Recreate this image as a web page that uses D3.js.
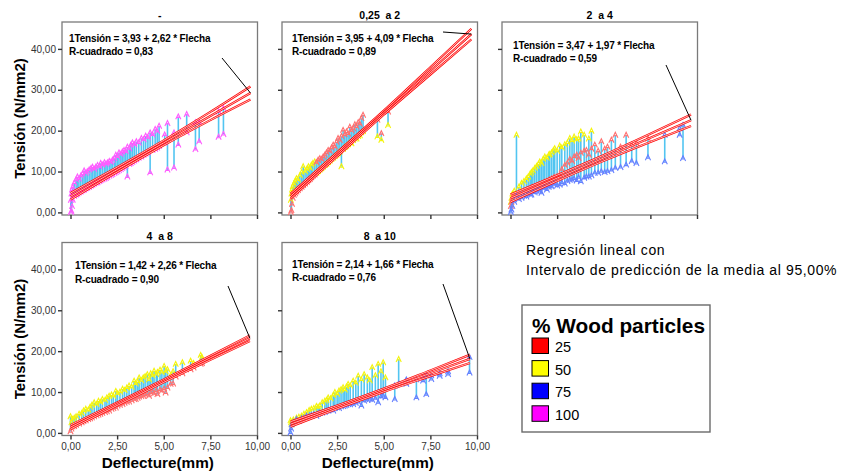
<!DOCTYPE html>
<html><head><meta charset="utf-8">
<script src="https://cdn.jsdelivr.net/npm/d3@7"></script>
<style>
body{margin:0;background:#fff}
svg{display:block;font-family:"Liberation Sans",Arial,sans-serif}
</style>
</head><body>
<svg id="c" width="850" height="473"></svg>
<script>
// ---------------- DATA ----------------
const categories = ["25", "50", "75", "100"];
const panelTitles = ["-", "0,25  a 2", "2  a 4", "4  a 8", "8  a 10"];
const xTicks = [0, 2.5, 5, 7.5, 10];
const yTicks = [0, 10, 20, 30, 40];
const intercepts = [3.93, 3.95, 3.47, 1.42, 2.14];
const slopes = [2.62, 4.09, 1.97, 2.26, 1.66];
const rSquared = [0.83, 0.89, 0.59, 0.90, 0.76];
const fitMaxX = [9.65, 9.7, 9.68, 9.62, 9.62];
const bandX = [0, 2.5, 5, 7.5, 10];
const bandHalf = [
  [0.8, 0.6, 0.6, 1.0, 1.6],
  [0.6, 0.5, 0.5, 0.9, 1.3],
  [0.9, 0.7, 0.7, 1.0, 1.4],
  [0.5, 0.35, 0.35, 0.5, 0.7],
  [0.6, 0.4, 0.4, 0.7, 1.0]
];

// panel 1 ("-") : 100 %
const p1X  = [0.02,0.05,0.08,0.12,0.2,0.3,0.37,0.45,0.55,0.65,0.73,0.82,0.9,1.0,1.1,1.18,1.27,1.36,1.45,1.55,1.62,1.72,1.82,1.9,1.98,2.08,2.17,2.25,2.35,2.43,2.52,2.6,2.7,2.78,2.87,2.96,3.05,3.15,3.23,3.32,3.42,3.53,3.66,3.8,3.92,4.03,4.15,4.27,4.4,4.54,4.65,4.75,5.05,5.2,5.55,5.78,6.23,6.7,6.9,7.94,8.2];
const p1Hi = [3.0,4.5,5.5,6.2,7.2,8.0,8.7,8.2,8.9,9.4,10.2,9.6,10.0,10.4,10.8,11.1,10.6,11.1,11.5,11.2,12.0,11.6,12.2,11.8,12.1,12.5,12.3,12.8,13.2,14.0,13.6,14.6,14.2,14.8,15.2,14.9,16.0,15.6,16.4,17.0,16.6,17.3,17.0,18.1,17.8,18.7,18.3,19.5,19.0,20.3,19.8,21.1,19.0,21.8,19.5,23.4,24.0,22.0,22.0,24.6,25.4];
const p1Lo = [0.0,0.3,1.5,3.0,4.0,4.3,4.5,4.8,5.0,5.3,5.5,5.8,6.0,6.2,6.5,6.7,7.0,7.2,7.3,7.6,7.8,8.0,8.2,8.4,8.6,8.9,9.1,9.3,9.6,9.8,10.0,10.3,10.5,10.8,11.0,11.3,8.7,11.8,12.0,12.3,12.6,12.9,13.3,13.6,14.0,14.3,14.6,9.7,15.2,15.5,15.8,16.2,17.0,10.4,10.9,16.5,19.5,15.4,17.3,18.4,19.1];

// panel 2 ("0,25 a 2") : 25 % and 50 %
const p2aX   = [0.02,0.05,0.08,0.12,0.18,0.25,0.32,0.4,0.5,0.6,0.68,0.78,0.88,0.96,1.04,1.12,1.2,1.3];
const p2aYel = [3.0,4.5,5.5,6.3,7.0,7.6,8.3,8.0,9.0,9.8,11.2,10.0,10.6,11.2,10.8,11.6,12.0,12.4];
const p2aRed = [0.0,0.5,2.0,3.5,4.2,4.6,5.0,5.4,5.8,6.2,6.6,7.0,7.4,7.8,8.1,8.5,8.9,9.2];
const p2bX   = [1.39,1.48,1.57,1.66,1.75,1.84,1.93,2.02,2.11,2.2,2.29,2.38,2.47,2.55,2.64,2.73,2.82,2.91,3.0,3.09,3.18,3.27,3.36,3.45,3.54,3.63,3.72,3.8,3.89,4.66,4.87,5.23];
const p2bRed = [12.2,12.8,13.2,13.0,13.6,14.0,14.6,15.2,15.0,15.8,16.5,16.0,17.2,18.1,17.6,18.6,20.1,19.0,19.7,19.2,20.9,20.0,20.5,21.5,20.9,22.0,21.6,23.0,23.8,22.6,19.3,24.6];
const p2bYel = [9.6,10.0,10.4,10.7,11.1,11.5,11.8,12.2,12.6,13.0,13.3,13.7,14.0,14.4,14.8,11.2,15.5,15.9,16.2,16.6,17.0,16.8,17.6,18.0,18.0,18.6,18.8,19.5,19.8,18.5,17.7,21.3];

// panel 3 ("2 a 4") : 25, 50, 75 %
const p3aX   = [0.02,0.05,0.1,0.2,0.32,0.45,0.59,0.72,0.85,0.95,1.05,1.12,1.2,1.3,1.4,1.5,1.57,1.66,1.75,1.84,1.95,2.05,2.1,2.2,2.3,2.37,2.5,2.64,2.75,2.91,3.05,3.18,3.3,3.41,3.55,3.65,3.77,3.95,4.2,4.34];
const p3aYel = [2.5,3.5,4.5,5.2,18.9,6.2,7.1,7.6,8.2,8.7,9.4,9.8,10.2,10.8,11.3,11.8,12.4,12.0,13.0,13.6,13.3,14.0,14.2,14.6,15.2,15.6,15.0,16.3,15.8,16.6,17.0,18.1,17.5,18.5,17.8,18.0,19.7,18.9,18.0,19.9];
const p3aRed = [1.5,2.5,3.5,4.0,4.3,4.6,4.9,5.2,5.4,5.6,5.8,6.0,6.1,6.3,6.5,6.7,6.8,7.0,7.2,7.4,7.6,7.8,8.0,8.2,8.4,8.6,8.8,9.2,10.5,11.5,12.0,13.0,12.5,13.6,14.0,13.2,14.5,15.0,14.0,15.5];
const p3aBlu = [0.0,0.6,1.5,2.5,3.9,3.2,3.5,4.0,3.8,4.5,4.3,4.3,5.0,4.8,5.2,5.5,5.2,4.7,5.8,6.0,5.5,6.2,6.5,6.3,6.8,7.0,6.5,6.7,7.2,7.0,7.6,7.9,7.9,8.2,7.7,8.5,7.5,8.4,8.7,9.0];
const p3bX   = [4.07,4.52,4.7,4.87,5.05,5.2,5.41,5.62,5.9,6.2,6.5,6.75,7.37];
const p3bRed = [15.2,16.5,15.0,17.3,15.5,16.0,17.7,18.9,16.0,18.9,16.5,16.9,18.0];
const p3bBlu = [8.7,9.6,9.6,10.0,9.8,10.0,10.3,10.8,11.0,11.6,12.5,12.0,13.4];
const p3cX   = [8.27,9.07,9.25];
const p3cBluHi = [18.9,20.5,21.3];
const p3cBluLo = [12.4,18.9,13.2];

// panel 4 ("4 a 8") : 25 and 50 %
const p4aX   = [0.0,0.05,0.11,0.2,0.3,0.46,0.6,0.7,0.82,0.95,1.05,1.15,1.27,1.4,1.5,1.6,1.71,1.85,1.95,2.07,2.2,2.3,2.43,2.52,2.65,2.79,2.9,3.02,3.14,3.28,3.41,3.5,3.6,3.68,3.8,3.9,4.0,4.12,4.21,4.3,4.4,4.48,4.6,4.66,4.8,4.9,5.02,5.1,5.2,5.37,5.5];
const p4aYel = [4.0,2.5,3.3,3.6,4.0,4.6,4.8,5.4,5.8,5.6,6.3,6.8,7.4,7.0,7.8,7.5,8.2,8.0,8.6,9.0,9.3,9.0,10.2,9.6,10.0,10.7,10.4,11.0,11.5,11.2,12.7,12.0,12.5,13.5,12.8,13.5,13.8,14.3,13.0,14.5,14.0,15.1,14.3,14.8,15.4,14.8,16.3,15.0,15.5,14.0,15.0];
const p4aRed = [0.3,1.0,1.5,1.6,1.9,2.2,2.5,2.8,3.0,3.3,3.5,3.7,4.0,4.2,4.4,4.6,4.8,5.0,5.2,5.4,5.8,6.0,6.1,6.6,6.8,7.0,7.3,7.5,7.6,7.9,8.2,8.2,8.5,8.8,8.9,9.0,9.3,9.5,9.0,9.8,10.0,9.6,10.3,9.4,10.5,10.2,10.8,9.8,11.0,11.9,12.0];
const p4bX   = [5.64,6.0,6.44,6.6,6.98,7.05];
const p4bYel = [16.8,17.2,17.6,17.0,19.0,18.5];
const p4bRed = [13.7,14.5,15.5,15.9,16.8,17.0];

// panel 5 ("8 a 10") : 50 and 75 %
const p5aX   = [0.0,0.03,0.06,0.15,0.32,0.45,0.59,0.72,0.86,1.0,1.12,1.25,1.39,1.48,1.57,1.7,1.84,1.93,2.02,2.15,2.29,2.38,2.5,2.6,2.71,2.82,2.91,3.0,3.09,3.2,3.36,3.5,3.63,3.8,3.95,4.12,4.25,4.38,4.55,4.7,4.85,4.97,5.09,5.8];
const p5aYel = [3.0,2.5,2.0,3.2,3.6,3.9,4.1,4.6,5.0,5.5,5.8,6.0,6.5,6.3,6.6,7.4,7.8,8.0,8.6,8.4,9.2,9.9,9.5,10.3,10.6,11.1,10.5,11.3,11.9,11.5,12.7,12.2,13.9,13.0,14.3,13.5,12.8,16.0,14.0,16.8,15.0,17.2,13.5,18.0];
const p5aBlu = [0.0,1.0,2.0,2.6,3.3,2.9,3.5,3.6,4.1,4.0,4.3,4.5,4.1,4.6,4.8,4.9,5.0,5.3,5.5,5.6,5.4,6.0,6.2,6.0,6.4,6.5,6.6,6.8,7.0,6.9,7.0,7.3,7.5,6.6,7.8,8.0,8.2,8.0,8.4,7.4,8.8,9.0,8.6,12.0];
const p5bX     = [5.59,6.21,6.75,7.11,7.28,7.55,8.0,8.45,9.6];
const p5bBluHi = [11.5,13.0,13.0,13.5,14.0,14.0,14.5,15.0,18.5];
const p5bBluLo = [8.2,11.9,8.6,12.7,9.4,13.1,13.9,14.3,14.7];

// ---------------- LAYOUT / STYLE ----------------
const catColors  = {"25":"#ff0000","50":"#ffff00","75":"#0000ff","100":"#ff00ff"};
const markColors = {"25":"#ff6f6f","50":"#f4f40c","75":"#6680ff","100":"#ff5cff"};
const dropColor = "#3fbff0";
const frames = [
  {left:62, top:22}, {left:282, top:22}, {left:502, top:22},
  {left:62, top:242.5}, {left:282, top:242.5}
];
const PW = 195.5, PH = 193;
const eqPos = [[7,19.7],[10,19.5],[11,27],[13,26.8],[10,25.2]];
const leaderStart = [[160,36],[161,10],[164,43],[166,43.5],[161,41.5]];

const panels = [
  {series:[{x:p1X,y:p1Hi,cat:"100"},{x:p1X,y:p1Lo,cat:"100"}]},
  {series:[{x:p2aX,y:p2aYel,cat:"50"},{x:p2aX,y:p2aRed,cat:"25"},{x:p2bX,y:p2bRed,cat:"25"},{x:p2bX,y:p2bYel,cat:"50"}]},
  {series:[{x:p3aX,y:p3aYel,cat:"50"},{x:p3aX,y:p3aRed,cat:"25"},{x:p3aX,y:p3aBlu,cat:"75"},
           {x:p3bX,y:p3bRed,cat:"25"},{x:p3bX,y:p3bBlu,cat:"75"},{x:p3cX,y:p3cBluHi,cat:"75"},{x:p3cX,y:p3cBluLo,cat:"75"}]},
  {series:[{x:p4aX,y:p4aYel,cat:"50"},{x:p4aX,y:p4aRed,cat:"25"},{x:p4bX,y:p4bYel,cat:"50"},{x:p4bX,y:p4bRed,cat:"25"}]},
  {series:[{x:p5aX,y:p5aYel,cat:"50"},{x:p5aX,y:p5aBlu,cat:"75"},{x:p5bX,y:p5bBluHi,cat:"75"},{x:p5bX,y:p5bBluLo,cat:"75"}]}
];

const fmt2 = v => d3.format(".2f")(v).replace(".", ",");
const svg = d3.select("#c");
const markerPath = "M-2.6,2.6L0,-2.8L2.6,2.6M-1.5,0.6H1.5";

panels.forEach((p, i) => {
  const f = frames[i];
  const g = svg.append("g");
  const x = d3.scaleLinear().domain([0, 10]).range([f.left + 8.5, f.left + 195]);
  const y = d3.scaleLinear().domain([0, 40]).range([f.top + 190.4, f.top + 26.9]);
  const showX = i >= 3, showY = (i === 0 || i === 3);

  // frame
  g.append("rect").attr("x", f.left).attr("y", f.top).attr("width", PW).attr("height", PH)
    .attr("fill", "#fff").attr("stroke", "#7a7a7a").attr("stroke-width", 1.3);

  // axes
  const ya = g.append("g").attr("transform", `translate(${f.left},0)`)
    .call(d3.axisLeft(y).tickValues(yTicks).tickSize(4).tickPadding(2)
      .tickFormat(showY ? fmt2 : ""));
  const xa = g.append("g").attr("transform", `translate(0,${f.top + PH})`)
    .call(d3.axisBottom(x).tickValues(xTicks).tickSize(4).tickPadding(3)
      .tickFormat(showX ? fmt2 : ""));
  [ya, xa].forEach(a => {
    a.select(".domain").remove();
    a.selectAll(".tick line").attr("stroke", "#333").attr("stroke-width", 1.4);
    a.selectAll(".tick text").attr("fill", "#333").style("font-size", "10px")
      .style("font-family", '"Liberation Sans",Arial,sans-serif');
  });

  // title
  g.append("text").attr("x", f.left + PW / 2).attr("y", f.top - 2.6)
    .attr("text-anchor", "middle").style("font-size", "10.5px").style("font-weight", "bold")
    .style("white-space", "pre").text(panelTitles[i]);

  // points
  const pts = [];
  p.series.forEach(s => s.x.forEach((xv, k) => {
    if (s.y[k] != null) pts.push({x: xv, y: s.y[k], cat: s.cat});
  }));
  const groups = d3.groups(pts, d => d.x);
  g.append("g").selectAll("line").data(groups.filter(gr => gr[1].length > 1)).join("line")
    .attr("x1", d => x(d[0])).attr("x2", d => x(d[0]))
    .attr("y1", d => y(d3.min(d[1], e => e.y))).attr("y2", d => y(d3.max(d[1], e => e.y)))
    .attr("stroke", dropColor).attr("stroke-width", 1.6).attr("stroke-opacity", 0.9);
  g.append("g").selectAll("path").data(pts).join("path")
    .attr("d", markerPath)
    .attr("transform", d => `translate(${x(d.x)},${y(d.y)})`)
    .attr("fill", "none").attr("stroke", d => markColors[d.cat]).attr("stroke-width", 1.1);

  // regression line with mean prediction interval
  const b0 = intercepts[i], b1 = slopes[i], xm = fitMaxX[i];
  const hw = bandHalf[i];
  const bx = bandX.map(v => Math.min(v, xm));
  const mk = sign => bx.map((xv, k) => [x(xv), y(b0 + b1 * xv + sign * hw[k])]);
  const line = d3.line().curve(d3.curveMonotoneX);
  [1, 0, -1].forEach(sgn => {
    const d = line(mk(sgn));
    g.append("path").attr("d", d).attr("fill", "none").attr("stroke", "#ff0000").attr("stroke-width", 2.2);
    g.append("path").attr("d", d).attr("fill", "none").attr("stroke", "#fff").attr("stroke-width", 0.7);
  });

  // leader line & equation
  const ls = leaderStart[i];
  g.append("line").attr("x1", f.left + ls[0]).attr("y1", f.top + ls[1])
    .attr("x2", x(xm)).attr("y2", y(b0 + b1 * xm)).attr("stroke", "#000").attr("stroke-width", 1);
  const ep = eqPos[i];
  const eq = g.append("text").attr("x", f.left + ep[0]).attr("y", f.top + ep[1])
    .style("font-size", "10px").style("font-weight", "bold").style("letter-spacing", "-0.15px");
  eq.append("tspan").text(`1Tensión = ${fmt2(b0)} + ${fmt2(b1)} * Flecha`);
  eq.append("tspan").attr("x", f.left + ep[0]).attr("dy", 13.2).text(`R-cuadrado = ${fmt2(rSquared[i])}`);

  // axis titles
  if (showY) {
    g.append("text").attr("transform", `translate(24.5,${f.top + PH / 2}) rotate(-90)`)
      .attr("text-anchor", "middle").style("font-size", "15px").style("font-weight", "bold")
      .text("Tensión (N/mm2)");
  }
  if (showX) {
    g.append("text").attr("x", f.left + PW / 2 - 2).attr("y", 468)
      .attr("text-anchor", "middle").style("font-size", "15.3px").style("font-weight", "bold")
      .text("Deflecture(mm)");
  }
});

// regression note
svg.append("text").attr("x", 526).attr("y", 255).style("font-size", "14px").style("letter-spacing", "0.62px")
  .text("Regresión lineal con");
svg.append("text").attr("x", 526).attr("y", 274.5).style("font-size", "14px").style("letter-spacing", "0.62px")
  .text("Intervalo de predicción de la media al 95,00%");

// legend
const lg = svg.append("g");
lg.append("rect").attr("x", 522).attr("y", 305).attr("width", 188).attr("height", 127)
  .attr("fill", "#fff").attr("stroke", "#6a6a6a").attr("stroke-width", 1.4);
lg.append("text").attr("x", 532).attr("y", 333).style("font-size", "20.8px").style("font-weight", "bold")
  .text("% Wood particles");
categories.forEach((c, k) => {
  const yy = 338 + k * 22.6;
  lg.append("rect").attr("x", 532).attr("y", yy).attr("width", 16.5).attr("height", 15.5)
    .attr("fill", catColors[c]).attr("stroke", "#000").attr("stroke-width", 1);
  lg.append("text").attr("x", 555).attr("y", yy + 14).style("font-size", "14.5px").text(c);
});
</script>
</body></html>
